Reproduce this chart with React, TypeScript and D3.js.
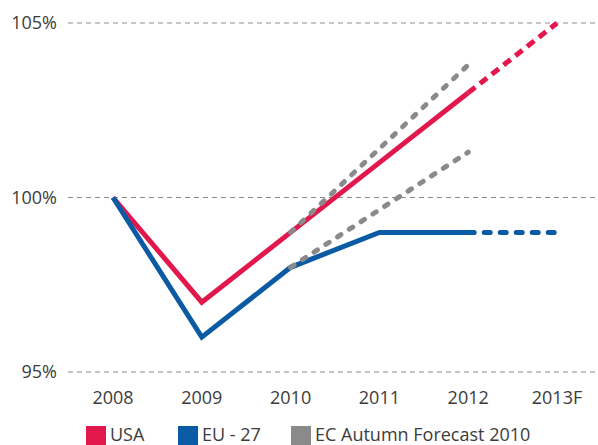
import React, { useEffect, useRef } from "react";
import * as d3 from "d3";

// values
const years = ["2008", "2009", "2010", "2011", "2012", "2013F"];
const usaValues = [100, 97, 99, 101, 103, 105];
const euValues = [100, 96, 98, 99, 99, 99];
// EC Autumn Forecast 2010: two dashed projections from 2010 to 2012
const ecUpperYears = ["2010", "2012"];
const ecUpperValues = [99, 103.8];
const ecLowerYears = ["2010", "2012"];
const ecLowerValues = [98, 101.3];
const yTicks = [95, 100, 105];
const legendItems = ["USA", "EU - 27", "EC Autumn Forecast 2010"];

const RED = "#e2174c";
const BLUE = "#0b5ba4";
const GRAY = "#8a8a8a";
const TEXT = "#3c3c3c";

const App = () => {
  const svgRef = useRef<SVGSVGElement>(null);

  useEffect(() => {
    const width = 598;
    const height = 445;
    const font = "'Open Sans', 'Noto Sans', sans-serif";

    const svg = d3.select(svgRef.current);
    svg.selectAll("*").remove();
    svg.attr("width", width).attr("height", height);

    const x = d3.scalePoint<string>().domain(years).range([113, 557]);
    const y = d3.scaleLinear().domain([95, 105]).range([372, 23]);

    // dashed gridlines
    svg
      .append("g")
      .selectAll("line")
      .data(yTicks)
      .enter()
      .append("line")
      .attr("x1", 68)
      .attr("x2", width)
      .attr("y1", (d) => y(d))
      .attr("y2", (d) => y(d))
      .attr("stroke", "#8c8c8c")
      .attr("stroke-width", 1)
      .attr("stroke-dasharray", "5,4");

    // y labels
    svg
      .append("g")
      .selectAll("text")
      .data(yTicks)
      .enter()
      .append("text")
      .attr("x", 57)
      .attr("y", (d) => y(d))
      .attr("dy", "0.35em")
      .attr("text-anchor", "end")
      .style("font-family", font)
      .style("font-size", "18px")
      .style("fill", TEXT)
      .text((d) => `${d}%`);

    // x labels
    svg
      .append("g")
      .selectAll("text")
      .data(years)
      .enter()
      .append("text")
      .attr("x", (d) => x(d)!)
      .attr("y", 404)
      .attr("text-anchor", "middle")
      .style("font-family", font)
      .style("font-size", "18px")
      .style("fill", TEXT)
      .text((d) => d);

    const line = d3
      .line<[string, number]>()
      .x((d) => x(d[0])!)
      .y((d) => y(d[1]));

    const drawSeries = (values: number[], color: string, dash: string, cap: string) => {
      const pts: [string, number][] = years.map((yr, i) => [yr, values[i]]);
      svg
        .append("path")
        .attr("d", line(pts.slice(0, 5)))
        .attr("fill", "none")
        .attr("stroke", color)
        .attr("stroke-width", 5)
        .attr("stroke-linejoin", "miter");
      svg
        .append("path")
        .attr("d", line(pts.slice(4)))
        .attr("fill", "none")
        .attr("stroke", color)
        .attr("stroke-width", 5)
        .attr("stroke-linecap", cap)
        .attr("stroke-dasharray", dash);
    };

    drawSeries(usaValues, RED, "9,6", "butt");
    drawSeries(euValues, BLUE, "6,10", "round");

    // fix the joint at 2008 so blue sits on top like the original
    const drawForecast = (yrs: string[], vals: number[]) => {
      const pts: [string, number][] = yrs.map((yr, i) => [yr, vals[i]]);
      svg
        .append("path")
        .attr("d", line(pts))
        .attr("fill", "none")
        .attr("stroke", GRAY)
        .attr("stroke-width", 5)
        .attr("stroke-linecap", "round")
        .attr("stroke-dasharray", "4,10");
    };
    drawForecast(ecUpperYears, ecUpperValues);
    drawForecast(ecLowerYears, ecLowerValues);

    // legend
    const legendColors = [RED, BLUE, GRAY];
    const legendX = [86, 178, 291];
    const legend = svg
      .append("g")
      .selectAll("g")
      .data(legendItems)
      .enter()
      .append("g")
      .attr("transform", (d, i) => `translate(${legendX[i]}, 426)`);
    legend
      .append("rect")
      .attr("width", 20)
      .attr("height", 20)
      .attr("fill", (d, i) => legendColors[i]);
    legend
      .append("text")
      .attr("x", 24)
      .attr("y", 15)
      .style("font-family", font)
      .style("font-size", "18px")
      .style("fill", TEXT)
      .text((d) => d);
  }, []);

  return (
    <svg
      ref={svgRef}
      style={{ position: "absolute", left: 0, top: 0, display: "block" }}
    />
  );
};

export default App;
